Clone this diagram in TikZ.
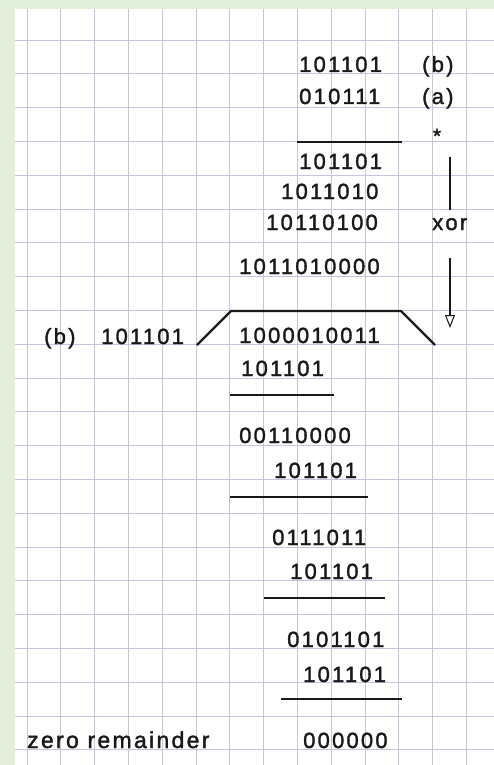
\documentclass[tikz,border=0pt]{standalone}
\usepackage{fontspec}
\newfontfamily\arialsp{Liberation Sans}[LetterSpace=10, FakeBold=1.5]
\usetikzlibrary{arrows.meta}
\definecolor{bordergreen}{RGB}{226,239,218}
\definecolor{gridpurple}{RGB}{202,193,223}
\definecolor{inkc}{RGB}{25,25,25}
\tikzset{
  num/.style={inner sep=0pt, anchor=base west, text=inkc, font=\arialsp\fontsize{22}{26}\selectfont},
  bar/.style={line width=2pt, draw=inkc},
  thin/.style={line width=1.2pt, draw=inkc},
  gridline/.style={line width=0.9pt, draw=gridpurple}
}
\begin{document}
\begin{tikzpicture}[x=1pt,y=-1pt]
\useasboundingbox (0,0) rectangle (494,765);
\fill[bordergreen] (0,0) rectangle (494,765);
\fill[white] (15,9) rectangle (494,765);
\foreach \k in {0,...,13} { \draw[gridline] ({27+33.8*\k},9) -- ({27+33.8*\k},765); }
\foreach \k in {0,...,21} { \draw[gridline] (15,{40+33.8*\k}) -- (494,{40+33.8*\k}); }

% top multiplication
\node[num] (b1) at (299,72) {101101};
\node[num] (bl) at (422,72) {(b)};
\node[num] (a1) at (299,104) {010111};
\node[num] (al) at (422,104) {(a)};
\node[inner sep=0pt, text=inkc, font=\arialsp\fontsize{21}{25}\selectfont] (star) at (437,136) {*};
\coordinate (m1) at (297,142); \coordinate (m2) at (402,142);
\draw[bar] (m1) -- (m2);
\node[num] (p1) at (299,169) {101101};
\node[num] (p2) at (281,199) {1011010};
\node[num] (p3) at (266,230) {10110100};
\node[num] (xor) at (432,230) {xor};
\node[num] (p4) at (239,274) {1011010000};
\coordinate (v1) at (450,157); \coordinate (v2) at (450,210);
\draw[thin] (v1) -- (v2);
\coordinate (w1) at (450,258); \coordinate (w2) at (450,328);
\draw[thin, -{Triangle[open, width=10pt, length=13pt, line width=1pt]}] (w1) -- (w2);

% division
\node[num] (bd) at (44,344) {(b)};
\node[num] (dv) at (101,344) {101101};
\coordinate (t1) at (197,345); \coordinate (t2) at (231,311);
\coordinate (t3) at (401,311); \coordinate (t4) at (435,345);
\draw[bar, line width=2.3pt] (t1) -- (t2) -- (t3) -- (t4);
\node[num] (r0) at (239,343) {1000010011};
\node[num] (s1) at (241,376) {101101};
\coordinate (l1a) at (230,395); \coordinate (l1b) at (334,395);
\draw[bar] (l1a) -- (l1b);
\node[num] (r1) at (239,443) {00110000};
\node[num] (s2) at (274,478) {101101};
\coordinate (l2a) at (230,497); \coordinate (l2b) at (368,497);
\draw[bar] (l2a) -- (l2b);
\node[num] (r2) at (272,545) {0111011};
\node[num] (s3) at (290,579) {101101};
\coordinate (l3a) at (264,598); \coordinate (l3b) at (385,598);
\draw[bar] (l3a) -- (l3b);
\node[num] (r3) at (287,647) {0101101};
\node[num] (s4) at (303,682) {101101};
\coordinate (l4a) at (281,699); \coordinate (l4b) at (402,699);
\draw[bar] (l4a) -- (l4b);
\node[num] (r4) at (303,748) {000000};
\node[num, font=\arialsp\fontsize{23}{27}\selectfont] (zr) at (27,748) {zero remainder};
\end{tikzpicture}
\end{document}
